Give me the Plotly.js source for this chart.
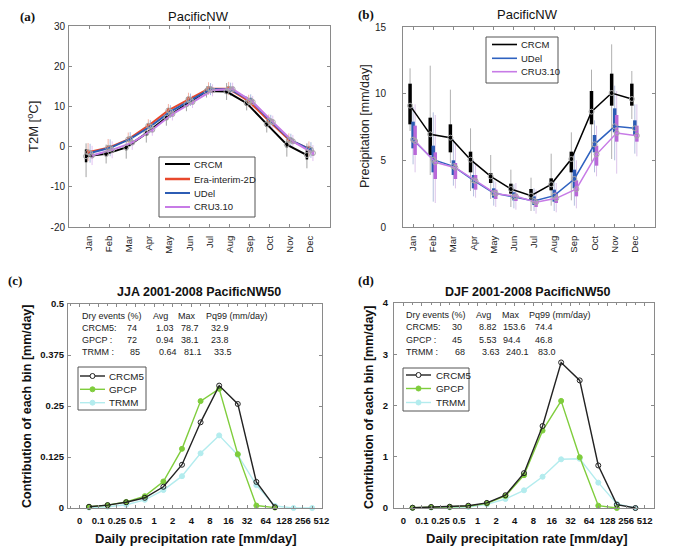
<!DOCTYPE html>
<html>
<head>
<meta charset="utf-8">
<script src="https://cdn.plot.ly/plotly-3.0.1.min.js"></script>
<style>
  html, body { margin: 0; padding: 0; background: #fff; }
  #chart { width: 678px; height: 555px; }
</style>
</head>
<body>
<div id="chart"></div>
<script>
// ---------- Monthly climatology, PacificNW ----------
const months = ['Jan','Feb','Mar','Apr','May','Jun','Jul','Aug','Sep','Oct','Nov','Dec'];

// T2M [degC]: mean, inter-quartile box, whisker range
const t2mCrcmMean = [-2.4,-1.8,-0.2,3.3,7.2,10.5,13.8,13.7,10.8,5.6,0.5,-2.1];
const t2mCrcmBoxLo = [-3.9,-2.4,-0.9,2.7,6.6,9.9,13.2,13.1,10.1,4.9,-0.2,-3.2];
const t2mCrcmBoxHi = [-0.7,-1.2,0.5,3.9,7.8,11.1,14.4,14.3,11.5,6.3,1.2,-0.9];
const t2mCrcmWhLo = [-7.6,-4.2,-3.0,1.0,5.2,8.8,12.2,11.6,9.0,3.5,-2.5,-5.4];
const t2mCrcmWhHi = [0.8,0.5,1.8,5.0,9.0,12.3,15.0,15.8,12.5,7.2,2.5,0.8];

const t2mEraMean = [-1.4,-0.3,1.8,5.2,9.0,11.8,14.4,14.4,11.3,6.4,1.7,-0.5];
const t2mEraBoxLo = [-2.0,-0.9,1.2,4.6,8.4,11.2,13.8,13.8,10.7,5.8,1.1,-1.1];
const t2mEraBoxHi = [-0.8,0.3,2.4,5.8,9.6,12.4,15.0,15.0,11.9,7.0,2.3,0.1];
const t2mEraWhLo = [-3.6,-2.2,0.0,3.6,7.4,10.2,12.9,12.8,9.8,4.8,0.0,-2.4];
const t2mEraWhHi = [0.9,1.9,3.5,6.8,10.6,13.4,16.0,16.1,12.9,8.0,3.3,1.3];

const t2mUdelMean = [-1.6,-0.3,1.9,5.0,8.7,11.6,14.3,14.2,11.5,6.3,1.6,-0.8];
const t2mUdelBoxLo = [-2.3,-1.0,1.3,4.4,8.1,11.0,13.7,13.6,10.9,5.7,1.0,-1.5];
const t2mUdelBoxHi = [-0.9,0.4,2.5,5.6,9.3,12.2,14.9,14.8,12.1,6.9,2.2,-0.1];
const t2mUdelWhLo = [-4.0,-2.4,0.0,3.5,7.1,10.1,12.8,12.6,10.0,4.7,-0.1,-2.8];
const t2mUdelWhHi = [0.7,1.8,3.6,6.6,10.3,13.2,15.8,15.9,13.0,7.9,3.2,1.1];

const t2mCruMean = [-2.2,-0.8,1.0,4.2,8.1,11.1,14.0,14.3,11.1,6.1,1.3,-1.6];
const t2mCruBoxLo = [-2.9,-1.5,0.4,3.6,7.5,10.5,13.4,13.7,10.5,5.5,0.7,-2.3];
const t2mCruBoxHi = [-1.5,-0.1,1.6,4.8,8.7,11.7,14.6,14.9,11.7,6.7,1.9,-0.9];
const t2mCruWhLo = [-4.6,-2.9,-0.8,2.7,6.5,9.6,12.5,12.7,9.6,4.5,-0.4,-3.6];
const t2mCruWhHi = [0.2,1.3,2.8,5.8,9.7,12.7,15.5,15.9,12.6,7.7,2.9,0.4];

// Precipitation [mm/day]
const prCrcmMean = [9.1,6.95,6.7,5.05,3.8,2.85,2.35,3.2,5.1,8.65,10.05,9.6];
const prCrcmBoxLo = [7.7,5.4,5.6,4.1,3.3,2.5,2.0,2.75,4.1,7.7,9.1,9.1];
const prCrcmBoxHi = [10.75,8.2,7.7,5.65,4.05,3.25,2.85,3.65,5.65,10.2,11.5,10.75];
const prCrcmWhLo = [7.2,3.9,4.8,2.7,2.1,1.5,1.2,1.6,2.0,4.9,5.1,8.1];
const prCrcmWhHi = [11.9,12.1,10.3,7.4,5.4,4.3,3.7,5.5,7.1,11.8,13.7,11.7];

const prUdelMean = [6.55,5.05,4.55,3.5,2.55,2.25,1.95,2.35,3.6,6.2,7.55,7.4];
const prUdelBoxLo = [5.9,4.1,3.9,2.9,2.2,2.0,1.65,1.9,2.9,5.6,7.1,6.9];
const prUdelBoxHi = [7.9,6.1,5.0,3.9,2.9,2.6,2.3,2.8,4.3,6.9,8.9,8.0];
const prUdelWhLo = [4.7,1.9,3.1,2.3,1.6,1.4,1.2,1.2,1.6,4.1,5.0,5.5];
const prUdelWhHi = [9.0,8.6,6.6,5.0,3.5,3.2,2.9,3.4,5.5,8.0,10.6,9.2];

const prCruMean = [6.45,4.85,4.45,3.45,2.5,2.3,1.85,2.15,2.85,5.45,7.05,6.85];
const prCruBoxLo = [5.4,3.6,3.6,2.8,2.1,1.95,1.5,1.8,2.3,4.6,6.4,6.4];
const prCruBoxHi = [7.6,5.6,4.8,3.9,2.8,2.5,2.1,2.6,3.5,6.1,8.4,7.6];
const prCruWhLo = [4.1,1.8,2.9,2.2,1.5,1.3,1.0,1.1,1.4,3.8,4.0,5.3];
const prCruWhHi = [9.2,8.4,6.3,4.8,3.4,3.3,2.8,3.3,5.0,7.6,10.2,9.2];

// ---------- Daily precipitation distribution (contribution of each bin) ----------
const rateTicks = ['0','0.1','0.25','0.5','1','2','4','8','16','32','64','128','256','512'];

const jjaCrcm5 = [0.003,0.007,0.014,0.025,0.052,0.106,0.21,0.30,0.255,0.064,0.002];
const jjaGpcp  = [0.003,0.007,0.015,0.029,0.065,0.145,0.262,0.292,0.132,0.006,0.001];
const jjaTrmm  = [0.001,0.003,0.008,0.02,0.044,0.078,0.134,0.178,0.13,0.056,0.005,0,0];

const djfCrcm5 = [0.005,0.02,0.025,0.045,0.10,0.25,0.68,1.60,2.84,2.49,0.83,0.065,0.0];
const djfGpcp  = [0.005,0.015,0.02,0.035,0.09,0.235,0.64,1.51,2.09,0.99,0.045,0.0];
const djfTrmm  = [0.003,0.008,0.012,0.02,0.07,0.175,0.345,0.61,0.95,0.96,0.495,0.08,0.0];

// statistics tables
const statHeaders = ['Dry events (%)','Avg','Max','Pq99 (mm/day)'];
const statNames = ['CRCM5:','GPCP :','TRMM :'];
const jjaDry = ['74','72','85'];
const jjaAvg = ['1.03','0.94','0.64'];
const jjaMax = ['78.7','38.1','81.1'];
const jjaPq99 = ['32.9','23.8','33.5'];
const djfDry = ['30','45','68'];
const djfAvg = ['8.82','5.53','3.63'];
const djfMax = ['153.6','94.4','240.1'];
const djfPq99 = ['74.4','46.8','83.0'];

// ---------- styling ----------
const W = 678, H = 555;
const PX = v => v / W;
const PY = v => 1 - v / H;
const SANS = 'Liberation Sans, Arial, Helvetica, sans-serif';
const SERIF = 'Liberation Serif, Times New Roman, serif';

const C_BLACK = '#000000';
const C_RED = '#e8482c';
const C_BLUE = '#2c5cb4';
const C_PURPLE = '#c77be6';
const C_GREEN = '#7fcd3c';
const C_CYAN = '#b3ecee';

const monthX = (off) => months.map((m, i) => i + 1 + off);

function barTrace(xa, ya, x, mean, lo, hi, color, thick) {
  return {
    type: 'scatter', mode: 'markers', x: x, y: mean, xaxis: xa, yaxis: ya,
    marker: { size: 1, opacity: 0 }, hoverinfo: 'skip', showlegend: false,
    error_y: {
      type: 'data', symmetric: false, visible: true,
      array: hi.map((v, i) => v - mean[i]),
      arrayminus: mean.map((v, i) => v - lo[i]),
      color: color, thickness: thick, width: 0
    }
  };
}
function lineTrace(xa, ya, x, y, color, w) {
  return { type: 'scatter', mode: 'lines', x: x, y: y, xaxis: xa, yaxis: ya,
    line: { color: color, width: w }, hoverinfo: 'skip', showlegend: false };
}
function meanMarks(xa, ya, x, y) {
  return { type: 'scatter', mode: 'markers', x: x, y: y, xaxis: xa, yaxis: ya,
    marker: { symbol: 'circle-open', size: 5, color: '#a8a8a8', line: { width: 1, color: '#a8a8a8' } },
    hoverinfo: 'skip', showlegend: false };
}

const traces = [];

// ----- panel (a): T2M -----
const aSeries = [
  { mean: t2mCrcmMean, bl: t2mCrcmBoxLo, bh: t2mCrcmBoxHi, wl: t2mCrcmWhLo, wh: t2mCrcmWhHi, c: C_BLACK, wc: '#a3a3a3', off: -0.15 },
  { mean: t2mEraMean, bl: t2mEraBoxLo, bh: t2mEraBoxHi, wl: t2mEraWhLo, wh: t2mEraWhHi, c: C_RED, wc: '#f2b2a6', off: -0.05 },
  { mean: t2mUdelMean, bl: t2mUdelBoxLo, bh: t2mUdelBoxHi, wl: t2mUdelWhLo, wh: t2mUdelWhHi, c: C_BLUE, wc: '#a9b9e0', off: 0.05 },
  { mean: t2mCruMean, bl: t2mCruBoxLo, bh: t2mCruBoxHi, wl: t2mCruWhLo, wh: t2mCruWhHi, c: C_PURPLE, wc: '#e2c2f2', off: 0.15 }
];
aSeries.forEach(s => traces.push(barTrace('x', 'y', monthX(s.off), s.mean, s.wl, s.wh, s.wc, 1)));
aSeries.forEach(s => traces.push(barTrace('x', 'y', monthX(s.off), s.mean, s.bl, s.bh, s.c, 2.5)));
aSeries.forEach(s => traces.push(lineTrace('x', 'y', monthX(s.off), s.mean, s.c, 2)));
aSeries.forEach(s => traces.push(meanMarks('x', 'y', monthX(s.off), s.mean)));

// ----- panel (b): precipitation -----
const bSeries = [
  { mean: prCrcmMean, bl: prCrcmBoxLo, bh: prCrcmBoxHi, wl: prCrcmWhLo, wh: prCrcmWhHi, c: C_BLACK, lc: C_BLACK, wc: '#b0b0b0', off: -0.15 },
  { mean: prUdelMean, bl: prUdelBoxLo, bh: prUdelBoxHi, wl: prUdelWhLo, wh: prUdelWhHi, c: C_BLUE, lc: '#2f62c0', wc: '#b4bede', off: 0.0 },
  { mean: prCruMean, bl: prCruBoxLo, bh: prCruBoxHi, wl: prCruWhLo, wh: prCruWhHi, c: '#b968d8', lc: C_PURPLE, wc: '#dcc4ea', off: 0.1 }
];
bSeries.forEach(s => traces.push(barTrace('x2', 'y2', monthX(s.off), s.mean, s.wl, s.wh, s.wc, 1)));
bSeries.forEach(s => traces.push(barTrace('x2', 'y2', monthX(s.off), s.mean, s.bl, s.bh, s.c, 3.5)));
bSeries.forEach(s => traces.push(lineTrace('x2', 'y2', monthX(s.off), s.mean, s.lc, 1.5)));
bSeries.forEach(s => traces.push(meanMarks('x2', 'y2', monthX(s.off), s.mean)));

// ----- panels (c) and (d): distributions -----
const binX = vals => vals.map((v, i) => i + 0.5);
function distTrace(xa, ya, vals, color, symbol, mcolor) {
  return {
    type: 'scatter', mode: 'lines+markers', x: binX(vals), y: vals, xaxis: xa, yaxis: ya,
    line: { color: color, width: 1.4 }, cliponaxis: false,
    marker: { symbol: symbol, size: 5, color: mcolor, line: { color: color, width: 1 } },
    hoverinfo: 'skip', showlegend: false
  };
}
traces.push(distTrace('x3', 'y3', jjaTrmm, C_CYAN, 'circle', C_CYAN));
traces.push(distTrace('x3', 'y3', jjaGpcp, C_GREEN, 'circle', C_GREEN));
traces.push(distTrace('x3', 'y3', jjaCrcm5, '#222222', 'circle-open', '#222222'));
traces.push(distTrace('x4', 'y4', djfTrmm, C_CYAN, 'circle', C_CYAN));
traces.push(distTrace('x4', 'y4', djfGpcp, C_GREEN, 'circle', C_GREEN));
traces.push(distTrace('x4', 'y4', djfCrcm5, '#222222', 'circle-open', '#222222'));

// ---------- axes ----------
const frame = {
  showline: true, linecolor: '#8a8a8a', linewidth: 1, mirror: 'ticks',
  ticks: 'inside', ticklen: 3, tickcolor: '#8a8a8a', tickwidth: 1,
  showgrid: false, zeroline: false, fixedrange: true
};
const tickFont = { family: SANS, size: 10, color: '#222' };
const boldTickFont = { family: SANS, size: 9.5, color: '#111', weight: 'bold' };

const layout = {
  width: W, height: H,
  margin: { l: 0, r: 0, t: 0, b: 0 },
  paper_bgcolor: '#fff', plot_bgcolor: '#fff',
  showlegend: false,
  font: { family: SANS, color: '#222' },
  xaxis: Object.assign({}, frame, {
    domain: [PX(69), PX(330)], anchor: 'y', range: [0, 13],
    tickmode: 'array', tickvals: monthX(0), ticktext: months, tickangle: -90,
    tickfont: { family: SANS, size: 9.5, color: '#222' }, ticklabelstandoff: 4
  }),
  yaxis: Object.assign({}, frame, {
    domain: [PY(227), PY(26)], anchor: 'x', range: [-20, 30],
    tickmode: 'array', tickvals: [-20, -10, 0, 10, 20, 30], ticktext: ['-20', '-10', '0', '10', '20', '30'],
    tickfont: tickFont, ticklabelstandoff: 1
  }),
  xaxis2: Object.assign({}, frame, {
    domain: [PX(403), PX(655)], anchor: 'y2', range: [0.5, 13],
    tickmode: 'array', tickvals: monthX(0), ticktext: months, tickangle: -90,
    tickfont: { family: SANS, size: 9.5, color: '#222' }, ticklabelstandoff: 4
  }),
  yaxis2: Object.assign({}, frame, {
    domain: [PY(227), PY(27)], anchor: 'x2', range: [0, 15],
    tickmode: 'array', tickvals: [0, 5, 10, 15], ticktext: ['0', '5', '10', '15'],
    tickfont: tickFont, ticklabelstandoff: 14
  }),
  xaxis3: Object.assign({}, frame, {
    domain: [PX(68), PX(322)], anchor: 'y3', range: [-0.63, 13.03],
    tickmode: 'array', tickvals: rateTicks.map((t, i) => i), ticktext: rateTicks,
    tickfont: boldTickFont, ticklabelstandoff: 4,
    minor: { tickmode: 'linear', tick0: 0.5, dtick: 1, ticks: 'inside', ticklen: 2, tickcolor: '#8a8a8a' }
  }),
  yaxis3: Object.assign({}, frame, {
    domain: [PY(508), PY(304)], anchor: 'x3', range: [0, 0.5],
    tickmode: 'array', tickvals: [0, 0.125, 0.25, 0.375, 0.5], ticktext: ['0', '0.125', '0.25', '0.375', '0.5'],
    tickfont: boldTickFont, ticklabelstandoff: 1
  }),
  xaxis4: Object.assign({}, frame, {
    domain: [PX(394), PX(654)], anchor: 'y4', range: [-0.5, 13.5],
    tickmode: 'array', tickvals: rateTicks.map((t, i) => i), ticktext: rateTicks,
    tickfont: boldTickFont, ticklabelstandoff: 4,
    minor: { tickmode: 'linear', tick0: 0.5, dtick: 1, ticks: 'inside', ticklen: 2, tickcolor: '#8a8a8a' }
  }),
  yaxis4: Object.assign({}, frame, {
    domain: [PY(508), PY(303)], anchor: 'x4', range: [0, 4],
    tickmode: 'array', tickvals: [0, 1, 2, 3, 4], ticktext: ['0', '1', '2', '3', '4'],
    tickfont: boldTickFont, ticklabelstandoff: 3
  }),
  shapes: [],
  annotations: []
};

const ann = layout.annotations;
const shp = layout.shapes;
function txt(text, x, y, opts) {
  ann.push(Object.assign({
    text: text, xref: 'paper', yref: 'paper', x: PX(x), y: PY(y),
    showarrow: false, xanchor: 'center', yanchor: 'middle',
    font: { family: SANS, size: 10, color: '#222' }
  }, opts || {}));
}

// panel letters
const letterFont = { family: SERIF, size: 13, color: '#111', weight: 'bold' };
txt('(a)', 27, 16, { font: letterFont });
txt('(b)', 366, 15, { font: letterFont });
txt('(c)', 15, 280, { font: letterFont });
txt('(d)', 366, 280, { font: letterFont });

// panel titles
txt('PacificNW', 199, 16, { font: { family: SANS, size: 13, color: '#111' } });
txt('PacificNW', 527, 15, { font: { family: SANS, size: 13, color: '#111' } });
txt('JJA 2001-2008 PacificNW50', 199, 292, { font: { family: SANS, size: 12.5, color: '#111', weight: 'bold' } });
txt('DJF 2001-2008 PacificNW50', 527, 292, { font: { family: SANS, size: 12.5, color: '#111', weight: 'bold' } });

// axis titles
txt('T2M [<sup>o</sup>C]', 33, 127, { textangle: -90, font: { family: SANS, size: 13, color: '#222' } });
txt('Precipitation [mm/day]', 365, 126, { textangle: -90, font: { family: SANS, size: 12.5, color: '#222' } });
txt('Contribution of each bin [mm/day]', 27, 407, { textangle: -90, font: { family: SANS, size: 12.5, color: '#111', weight: 'bold' } });
txt('Contribution of each bin [mm/day]', 369, 407, { textangle: -90, font: { family: SANS, size: 12.5, color: '#111', weight: 'bold' } });
txt('Daily precipitation rate [mm/day]', 196, 538, { font: { family: SANS, size: 13, color: '#111', weight: 'bold' } });
txt('Daily precipitation rate [mm/day]', 527, 538, { font: { family: SANS, size: 13, color: '#111', weight: 'bold' } });

// statistics tables
function statTable(x0, colX, valX, rowY, dry, avg, mx, pq) {
  const f = { family: SANS, size: 9, color: '#222' };
  statHeaders.forEach((h, i) => txt(h, colX[i], rowY[0], { xanchor: 'left', font: f }));
  statNames.forEach((n, r) => {
    const y = rowY[r + 1];
    const shift = r === 2 ? 3 : 0;
    txt(n, x0, y, { xanchor: 'left', font: f });
    txt(dry[r], valX[0] + shift, y, { xanchor: 'right', font: f });
    txt(avg[r], valX[1] + shift, y, { xanchor: 'left', font: f });
    txt(mx[r], valX[2] + shift, y, { xanchor: 'left', font: f });
    txt(pq[r], valX[3] + shift, y, { xanchor: 'left', font: f });
  });
}
statTable(80, [80, 151, 176, 204], [139, 154, 179, 209], [316, 328, 340, 352], jjaDry, jjaAvg, jjaMax, jjaPq99);
statTable(404, [404, 474, 500, 527], [464, 477, 501, 533], [315, 327, 340, 352], djfDry, djfAvg, djfMax, djfPq99);

// legends
function legendBox(x0, x1, y0, y1, items, lx0, lx1, tx, fontSize) {
  shp.push({ type: 'rect', xref: 'paper', yref: 'paper', layer: 'above',
    x0: PX(x0), x1: PX(x1), y0: PY(y1), y1: PY(y0),
    line: { color: '#555', width: 1 }, fillcolor: '#fff' });
  items.forEach(it => {
    shp.push({ type: 'line', xref: 'paper', yref: 'paper', layer: 'above',
      x0: PX(lx0), x1: PX(lx1), y0: PY(it.y), y1: PY(it.y),
      line: { color: it.color, width: it.width } });
    if (it.marker) {
      const mx = (lx0 + lx1) / 2, r = 2.5;
      shp.push({ type: 'circle', xref: 'paper', yref: 'paper', layer: 'above',
        x0: PX(mx - r), x1: PX(mx + r), y0: PY(it.y + r), y1: PY(it.y - r),
        line: { color: it.color, width: 1 }, fillcolor: it.fill });
    }
    txt(it.name, tx, it.y, { xanchor: 'left', font: { family: SANS, size: fontSize, color: '#222' } });
  });
}
legendBox(159, 255, 157, 217, [
  { name: 'CRCM', color: C_BLACK, width: 2, y: 164 },
  { name: 'Era-interim-2D', color: C_RED, width: 2.5, y: 179 },
  { name: 'UDel', color: C_BLUE, width: 2, y: 193 },
  { name: 'CRU3.10', color: C_PURPLE, width: 2, y: 207 }
], 165, 190, 192, 9.5);
legendBox(486, 558, 37, 83, [
  { name: 'CRCM', color: C_BLACK, width: 1.6, y: 44.5 },
  { name: 'UDel', color: '#2f62c0', width: 1.6, y: 58.3 },
  { name: 'CRU3.10', color: C_PURPLE, width: 1.6, y: 71.7 }
], 492, 517, 519, 9.5);
legendBox(78, 146, 367, 410, [
  { name: 'CRCM5', color: '#222', width: 1.4, y: 376, marker: true, fill: '#fff' },
  { name: 'GPCP', color: C_GREEN, width: 1.4, y: 389.3, marker: true, fill: C_GREEN },
  { name: 'TRMM', color: C_CYAN, width: 1.4, y: 402.7, marker: true, fill: C_CYAN }
], 80, 105, 107, 9.8);
legendBox(403, 469, 368, 411, [
  { name: 'CRCM5', color: '#222', width: 1.4, y: 375, marker: true, fill: '#fff' },
  { name: 'GPCP', color: C_GREEN, width: 1.4, y: 388.5, marker: true, fill: C_GREEN },
  { name: 'TRMM', color: C_CYAN, width: 1.4, y: 402.5, marker: true, fill: C_CYAN }
], 406, 431, 434, 9.8);

Plotly.newPlot('chart', traces, layout, { staticPlot: true, displayModeBar: false });
</script>
</body>
</html>
